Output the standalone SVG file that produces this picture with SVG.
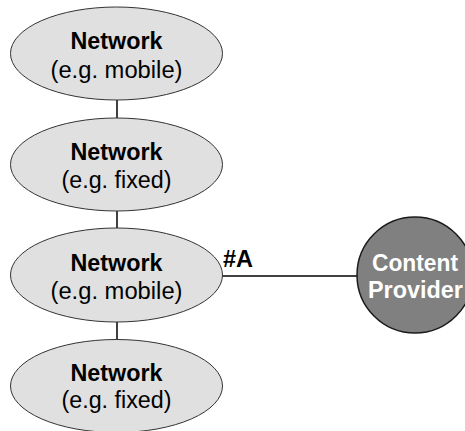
<svg xmlns="http://www.w3.org/2000/svg" width="465" height="431" viewBox="0 0 465 431">
<style>
.net{fill:#e0e0e0;stroke:#333;stroke-width:1}
.cp{fill:#808080;stroke:#1a1a1a;stroke-width:1.5}
.t{font-family:"Liberation Sans",Arial,sans-serif;font-size:23px;text-anchor:middle;fill:#000}
.b{font-weight:bold}
.w{fill:#fff}
.ln{stroke:#000;stroke-width:1.5;fill:none}
</style>
<rect width="465" height="431" fill="#fff"/>
<g id="connectors">
<line class="ln" x1="117" y1="100" x2="117" y2="119"/>
<line class="ln" x1="117" y1="211" x2="117" y2="228"/>
<line class="ln" x1="117" y1="322" x2="117" y2="340"/>
<line class="ln" x1="222" y1="276" x2="357" y2="276"/>
<text class="t b" x="238" y="267" textLength="30" lengthAdjust="spacingAndGlyphs">#A</text>
</g>
<g id="n1">
<ellipse class="net" cx="116.5" cy="53.5" rx="106" ry="46.5"/>
<text class="t b" x="116.5" y="49" textLength="92" lengthAdjust="spacingAndGlyphs">Network</text>
<text class="t" x="116.5" y="78" textLength="132" lengthAdjust="spacingAndGlyphs">(e.g. mobile)</text>
</g>
<g id="n2">
<ellipse class="net" cx="116.5" cy="164.5" rx="106" ry="46.5"/>
<text class="t b" x="116.5" y="160" textLength="92" lengthAdjust="spacingAndGlyphs">Network</text>
<text class="t" x="116.5" y="188" textLength="110" lengthAdjust="spacingAndGlyphs">(e.g. fixed)</text>
</g>
<g id="n3">
<ellipse class="net" cx="116.5" cy="275" rx="106" ry="47"/>
<text class="t b" x="116.5" y="271" textLength="92" lengthAdjust="spacingAndGlyphs">Network</text>
<text class="t" x="116.5" y="299" textLength="132" lengthAdjust="spacingAndGlyphs">(e.g. mobile)</text>
</g>
<g id="n4">
<ellipse class="net" cx="116.5" cy="386" rx="106" ry="46.5"/>
<text class="t b" x="116.5" y="381" textLength="92" lengthAdjust="spacingAndGlyphs">Network</text>
<text class="t" x="116.5" y="408" textLength="110" lengthAdjust="spacingAndGlyphs">(e.g. fixed)</text>
</g>
<g id="content-provider">
<circle class="cp" cx="415" cy="275" r="58"/>
<text class="t b w" x="415" y="271" textLength="86" lengthAdjust="spacingAndGlyphs">Content</text>
<text class="t b w" x="415.5" y="298" textLength="95" lengthAdjust="spacingAndGlyphs">Provider</text>
</g>
</svg>
